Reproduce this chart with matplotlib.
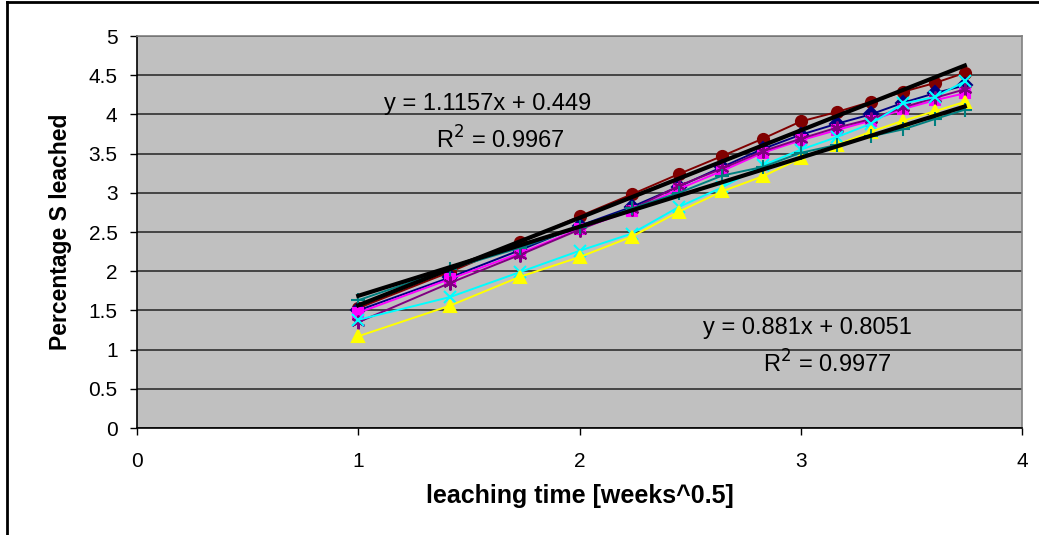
import numpy as np
import matplotlib
matplotlib.use("Agg")
import matplotlib.pyplot as plt
from matplotlib.lines import Line2D

plt.rcParams['font.family'] = ['Liberation Sans', 'DejaVu Sans']

weeks = [1, 2, 3, 4, 5, 6, 7, 8, 9, 10, 11, 12, 13, 14]
x = np.sqrt(weeks)

red = [1.53, 1.99, 2.37, 2.70, 2.98, 3.24, 3.47, 3.69, 3.91, 4.03, 4.16, 4.29, 4.40, 4.53]
navy = [1.50, 1.92, 2.27, 2.58, 2.82, 3.08, 3.33, 3.56, 3.74, 3.88, 4.00, 4.15, 4.27, 4.37]
magenta = [1.47, 1.90, 2.23, 2.54, 2.77, 3.05, 3.28, 3.51, 3.67, 3.80, 3.92, 4.07, 4.18, 4.27]
purple = [1.35, 1.85, 2.21, 2.53, 2.79, 3.09, 3.31, 3.53, 3.69, 3.83, 3.94, 4.09, 4.21, 4.32]
cyan = [1.38, 1.67, 1.99, 2.26, 2.48, 2.82, 3.07, 3.35, 3.55, 3.71, 3.88, 4.14, 4.22, 4.42]
yellow = [1.17, 1.56, 1.93, 2.18, 2.44, 2.76, 3.02, 3.21, 3.44, 3.61, 3.78, 3.92, 4.04, 4.16]
teal = [1.63, 2.03, 2.30, 2.56, 2.80, 3.00, 3.22, 3.33, 3.51, 3.61, 3.72, 3.81, 3.94, 4.06]

trend1 = (1.1157, 0.449)
trend2 = (0.881, 0.8051)
eq1 = ["y = 1.1157x + 0.449", "R$^2$ = 0.9967"]
eq2 = ["y = 0.881x + 0.8051", "R$^2$ = 0.9977"]

xticks = [0, 1, 2, 3, 4]
yticks = [0, 0.5, 1, 1.5, 2, 2.5, 3, 3.5, 4, 4.5, 5]

fig = plt.figure(figsize=(10.39, 5.35), dpi=100)
ax = fig.add_axes([0.1319, 0.2, 0.8517, 0.7327])
ax.set_facecolor('#C0C0C0')

asterisk = (6, 2, 0)
series = [
    (red, '#800000', 'o', 8),
    (navy, '#000080', 'D', 7),
    (magenta, '#FF00FF', 's', 7),
    (purple, '#800080', asterisk, 10),
    (cyan, '#00FFFF', 'x', 9),
    (yellow, '#FFFF00', '^', 9),
    (teal, '#008080', '+', 10),
]
for vals, col, mk, ms in series:
    ax.plot(x, vals, color=col, lw=1.4, marker=mk, markersize=ms,
            markerfacecolor=col, markeredgecolor=col, markeredgewidth=1.5, zorder=3)

xt = np.array([x[0], x[-1]])
for (m, b) in (trend1, trend2):
    ax.plot(xt, m * xt + b, color='black', lw=3, zorder=4)

ax.set_xlim(0, 4)
ax.set_ylim(0, 5)
ax.set_xticks(xticks)
ax.set_yticks(yticks)
ax.set_xticklabels([str(t) for t in xticks])
ax.set_yticklabels([('%g' % t) for t in yticks])
ax.tick_params(axis='both', labelsize=15, direction='out', length=5, width=1, color='black')
ax.tick_params(axis='x', pad=12)
ax.tick_params(axis='y', pad=9)
ax.yaxis.grid(True, color='#3a3a3a', lw=1.3)
ax.set_axisbelow(True)
for s in ('left', 'bottom'):
    ax.spines[s].set_color('black')
    ax.spines[s].set_linewidth(1.2)
for s in ('top', 'right'):
    ax.spines[s].set_color('#808080')
    ax.spines[s].set_linewidth(1.2)

ax.set_xlabel('leaching time [weeks^0.5]', fontsize=18, fontweight='bold', labelpad=10)
ax.set_ylabel('Percentage S leached', fontsize=16.5, fontweight='bold', labelpad=12)

ax.text(1.586, 4.13, eq1[0], fontsize=17, ha='center', va='center', zorder=5)
ax.text(1.64, 3.67, eq1[1], fontsize=17, ha='center', va='center', zorder=5)
ax.text(3.03, 1.28, eq2[0], fontsize=17, ha='center', va='center', zorder=5)
ax.text(3.12, 0.82, eq2[1], fontsize=17, ha='center', va='center', zorder=5)

# chart border (top and left visible)
W, H = 1039, 535
fig.add_artist(Line2D([7 / W, 1.0], [1 - 2 / H, 1 - 2 / H], color='black', lw=2, transform=fig.transFigure))
fig.add_artist(Line2D([7 / W, 7 / W], [0, 1 - 2 / H], color='black', lw=2, transform=fig.transFigure))

fig.savefig('out.png', dpi=100, facecolor='white')
